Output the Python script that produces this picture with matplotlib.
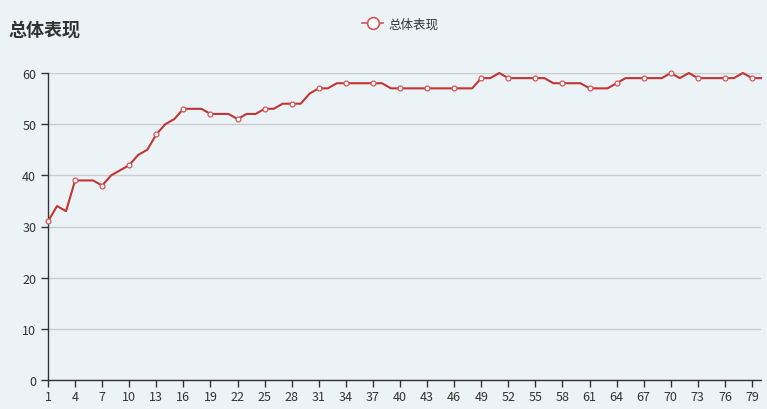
import matplotlib
matplotlib.use("Agg")
import matplotlib.pyplot as plt
from matplotlib.lines import Line2D

plt.rcParams['font.family'] = ['Noto Sans CJK SC', 'DejaVu Sans']

# -----------------------
# DATA
# -----------------------
title = "总体表现"
series_name = "总体表现"
x_values = list(range(1, 81))
scores = [31, 34, 33, 39, 39, 39, 38, 40, 41, 42,
          44, 45, 48, 50, 51, 53, 53, 53, 52, 52,
          52, 51, 52, 52, 53, 53, 54, 54, 54, 56,
          57, 57, 58, 58, 58, 58, 58, 58, 57, 57,
          57, 57, 57, 57, 57, 57, 57, 57, 59, 59,
          60, 59, 59, 59, 59, 59, 58, 58, 58, 58,
          57, 57, 57, 58, 59, 59, 59, 59, 59, 60,
          59, 60, 59, 59, 59, 59, 59, 60, 59, 59]
y_ticks = [0, 10, 20, 30, 40, 50, 60]

# -----------------------
# STYLE
# -----------------------
bg = '#ecf3f7'
red = '#c23531'
text_color = '#333333'

fig = plt.figure(figsize=(7.67, 4.10), dpi=100, facecolor=bg)
ax = fig.add_axes([48 / 767, 29 / 410, 713 / 767, 307 / 410])
ax.set_facecolor(bg)

ax.plot(x_values, scores, color=red, linewidth=1.5, marker='o', markevery=3,
        markersize=3.5, markerfacecolor='white', markeredgecolor='#d65556',
        markeredgewidth=0.9, zorder=3, clip_on=False)

ax.set_xlim(1, 80)
ax.set_ylim(0, 60)
ax.set_xticks(x_values[::3])
ax.set_yticks(y_ticks)
ax.grid(axis='y', color='#cccccc', linewidth=1)
ax.set_axisbelow(True)

for side in ['top', 'right']:
    ax.spines[side].set_visible(False)
for side in ['left', 'bottom']:
    ax.spines[side].set_color(text_color)
    ax.spines[side].set_linewidth(1)

ax.tick_params(axis='both', colors=text_color, labelsize=9, length=5, width=1)
ax.tick_params(axis='x', pad=2)

fig.text(8 / 767, 1 - 30 / 410, title, fontsize=13, fontweight='bold',
         color=text_color, va='center', ha='left')

# legend icon: thin line with a big hollow circle
handle = Line2D([], [], color='#d65556', linewidth=1.2, marker='o',
                markersize=8.5, markerfacecolor='white',
                markeredgecolor='#d65556', markeredgewidth=1.2)
leg = fig.legend([handle], [series_name], loc='center',
                 bbox_to_anchor=(400 / 767, 1 - 25 / 410),
                 frameon=False, fontsize=9, handlelength=1.7,
                 handletextpad=0.4)
for t in leg.get_texts():
    t.set_color(text_color)

fig.savefig('out.png', dpi=100, facecolor=bg)
